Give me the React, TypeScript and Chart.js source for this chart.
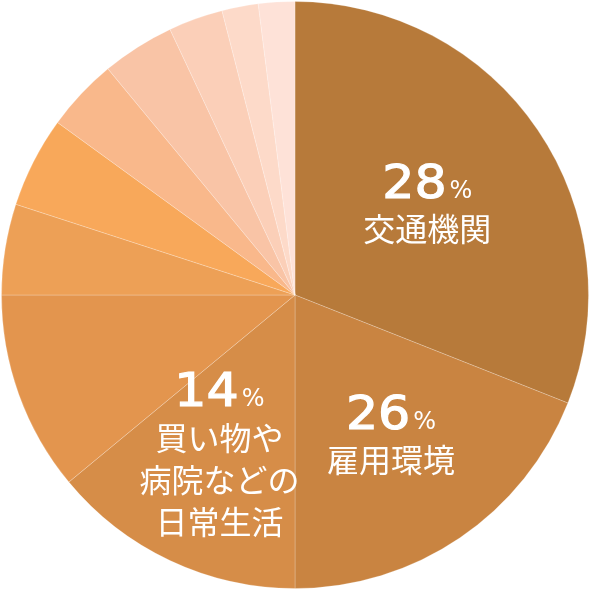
import React, { useEffect, useRef } from "react";
import { Chart, registerables } from "chart.js";

Chart.register(...registerables);

const categories = [
  "交通機関",
  "雇用環境",
  "買い物や病院などの日常生活",
  "その他A",
  "その他B",
  "その他C",
  "その他D",
  "その他E",
  "その他F",
  "その他G",
  "その他H",
];
const shares = [31, 19, 14, 11, 5, 5, 4, 4, 3, 2, 2];
const colors = [
  "#B77A3A",
  "#C98441",
  "#D68D48",
  "#E3954E",
  "#EDA056",
  "#F8A85A",
  "#F9B88B",
  "#F9C4A6",
  "#FBCFB8",
  "#FDDAC9",
  "#FEE2D8",
];
const pctLabels = ["28", "26", "14"];
const labelLines = [["交通機関"], ["雇用環境"], ["買い物や", "病院などの", "日常生活"]];
const labelRadialFactor = [0.545, 0.582, 0.605];

const sliceLabelPlugin = {
  id: "sliceLabels",
  afterDatasetsDraw(chart: any) {
    const meta = chart.getDatasetMeta(0);
    const ctx = chart.ctx as CanvasRenderingContext2D;
    ctx.save();
    ctx.fillStyle = "#ffffff";
    ctx.strokeStyle = "#ffffff";
    pctLabels.forEach((pct, i) => {
      const arc = meta.data[i] as any;
      if (!arc) return;
      const { x, y, startAngle, endAngle, outerRadius } = arc.getProps(
        ["x", "y", "startAngle", "endAngle", "outerRadius"],
        true
      );
      const mid = (startAngle + endAngle) / 2;
      const ax = x + Math.cos(mid) * outerRadius * labelRadialFactor[i];
      const ay = y + Math.sin(mid) * outerRadius * labelRadialFactor[i];
      const lines = labelLines[i];
      const total = 48 + 42 * (lines.length - 1);
      const startY = ay - total / 2;
      // percent line
      const sxScale = 1.1;
      const digitFont = "46px 'DejaVu Sans'";
      const pctFont = "24px 'DejaVu Sans'";
      ctx.font = digitFont;
      const dw = ctx.measureText(pct).width * sxScale;
      ctx.font = pctFont;
      const pw = ctx.measureText("%").width;
      const gap = 3;
      const tw = dw + gap + pw;
      const sx = ax - tw / 2;
      const baseline = startY + 16.5;
      ctx.textAlign = "left";
      ctx.textBaseline = "alphabetic";
      ctx.font = digitFont;
      ctx.save();
      ctx.translate(sx, baseline);
      ctx.scale(sxScale, 1);
      ctx.lineWidth = 1.2;
      ctx.fillText(pct, 0, 0);
      ctx.strokeText(pct, 0, 0);
      ctx.restore();
      ctx.font = pctFont;
      ctx.fillText("%", sx + dw + gap, baseline);
      // text lines
      ctx.font = "32px 'Noto Sans CJK JP'";
      ctx.textAlign = "center";
      ctx.textBaseline = "middle";
      lines.forEach((ln, j) => {
        ctx.fillText(ln, ax, startY + 48 + 42 * j);
      });
    });
    ctx.restore();
  },
};

export default function App() {
  const ref = useRef<HTMLCanvasElement | null>(null);
  useEffect(() => {
    if (!ref.current) return;
    const chart = new Chart(ref.current, {
      type: "pie",
      data: {
        labels: categories,
        datasets: [
          {
            data: shares,
            backgroundColor: colors,
            borderColor: "rgba(255,255,255,0.22)",
            borderWidth: 1,
          },
        ],
      },
      options: {
        responsive: false,
        animation: false,
        layout: { padding: 1 },
        plugins: {
          legend: { display: false },
          tooltip: { enabled: false },
        },
      },
      plugins: [sliceLabelPlugin],
    });
    return () => chart.destroy();
  }, []);
  return (
    <div style={{ position: "absolute", left: 0, top: 0, width: 590, height: 590, background: "#fff" }}>
      <canvas ref={ref} width={590} height={590} style={{ width: 590, height: 590 }} />
    </div>
  );
}
